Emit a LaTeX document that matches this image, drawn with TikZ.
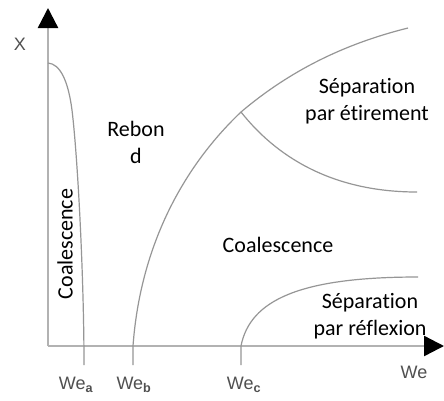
\documentclass[tikz,border=0pt]{standalone}
\usepackage{fontspec}
\setmainfont[Ligatures={NoCommon}]{Carlito}
\newfontfamily\axfont{Liberation Sans}
\usetikzlibrary{arrows.meta}
\definecolor{axisgray}{RGB}{178,178,178}
\definecolor{curvegray}{RGB}{150,150,150}
\definecolor{labelgray}{RGB}{80,80,80}
\begin{document}
\begin{tikzpicture}[x=1pt,y=-1pt,
  axisline/.style={draw=axisgray,line width=2.4pt,-{Triangle[length=20pt,width=20pt,color=black]}},
  curve/.style={draw=curvegray,line width=1.2pt},
  region/.style={font=\fontsize{22}{27}\selectfont,text=black,align=center,inner sep=0pt},
  axlabel/.style={font=\axfont\fontsize{18}{20}\selectfont,text=labelgray,inner sep=0pt}]
\useasboundingbox (0,0) rectangle (444,400);
\fill[white] (0,0) rectangle (444,400);
% axes
\coordinate (O) at (48,346);
\coordinate (ytip) at (48,8);
\coordinate (xtip) at (444,346);
\draw[axisline] (O) -- (ytip);
\draw[axisline] (O) -- (xtip);
% curves
\draw[curve] (48,63) .. controls (60,64) and (68,80) .. (72,110) .. controls (78,160) and (84,280) .. (84,365);
\coordinate (J) at (241,112);
\draw[curve] (133,365) -- (133,346) .. controls (140,250) and (180,170) .. (J) .. controls (300,62) and (360,40) .. (408,28);
\draw[curve] (J) .. controls (275,155) and (330,192) .. (417,192);
\draw[curve] (241,365) -- (241,346) .. controls (250,300) and (300,277) .. (418,277);
% region labels
\node[region,rotate=90] (coal1) at (65,244) {Coalescence};
\node[region] (reb) at (136,142) {Rebon\\d};
\node[region] (sep1) at (367,101) {Séparation\\par étirement};
\node[region] (coal2) at (278,245) {Coalescence};
\node[region] (sep2) at (370,316) {Séparation\\par réflexion};
% axis labels
\node[axlabel] (X) at (20,44) {X};
\node[axlabel] (We) at (414,372) {We};
\node[axlabel] (Wea) at (76,385) {We\textsubscript{\bfseries a}};
\node[axlabel] (Web) at (134,385) {We\textsubscript{\bfseries b}};
\node[axlabel] (Wec) at (244,385) {We\textsubscript{\bfseries c}};
\end{tikzpicture}
\end{document}
